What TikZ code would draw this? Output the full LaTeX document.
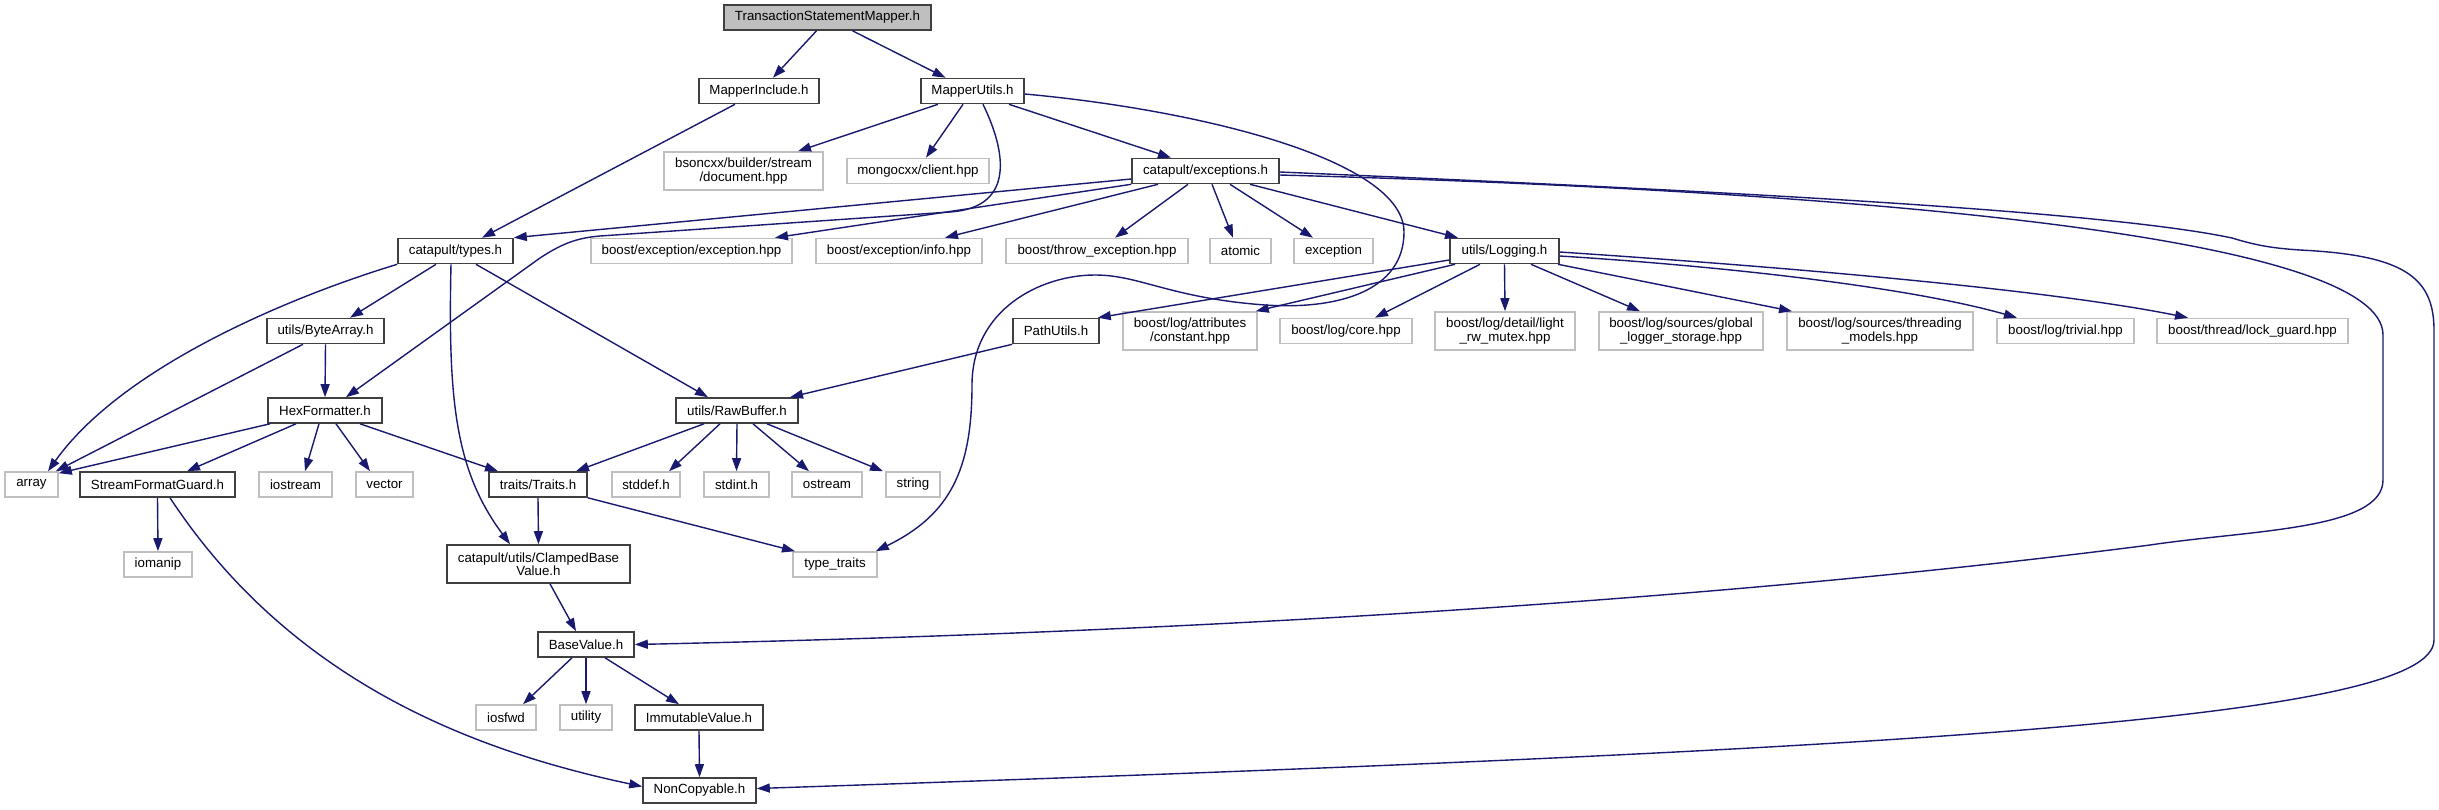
\documentclass[tikz,border=0pt]{standalone}
\usepackage{fontspec}
\setmainfont{Liberation Sans}
\usetikzlibrary{arrows.meta,calc}
\definecolor{edgec}{HTML}{191970}
\definecolor{grayb}{HTML}{BFBFBF}
\definecolor{darkb}{HTML}{404040}
\begin{document}
\begin{tikzpicture}[x=1pt,y=-1pt,
  nbox/.style={rectangle, inner sep=0pt, font=\fontsize{13.3}{13.4}\selectfont, align=center, line width=1.6pt, fill=white, minimum height=25pt},
  fb/.style={nbox, draw=darkb},
  gb/.style={nbox, draw=grayb},
  two/.style={minimum height=38pt},
  con/.style={draw=edgec, line width=1.4pt, -{Triangle[length=13pt,width=9pt]}}]
\useasboundingbox (0,0) rectangle (2439,809);
% nodes
\node[fb, fill=grayb, minimum width=207pt] (tsm) at (827.5,17.5) {TransactionStatementMapper.h};
\node[fb, minimum width=120pt] (minc) at (759,91) {MapperInclude.h};
\node[fb, minimum width=103pt] (mutl) at (972.5,91) {MapperUtils.h};
\node[gb, two, minimum width=159pt] (bson) at (743.5,171) {bsoncxx/builder/stream\\/document.hpp};
\node[gb, minimum width=142pt] (mongo) at (918,171) {mongocxx/client.hpp};
\node[fb, minimum width=147pt] (exc) at (1205.5,171) {catapult/exceptions.h};
\node[fb, minimum width=115pt] (types) at (455.5,251) {catapult/types.h};
\node[gb, minimum width=201pt] (bexc) at (691.5,251) {boost/exception/exception.hpp};
\node[gb, minimum width=166pt] (binfo) at (899,251) {boost/exception/info.hpp};
\node[gb, minimum width=182pt] (bthrow) at (1097,251) {boost/throw\_exception.hpp};
\node[gb, minimum width=61pt] (atomic) at (1240.5,251) {atomic};
\node[gb, minimum width=79pt] (exception) at (1333.5,251) {exception};
\node[fb, minimum width=109pt] (logging) at (1504.5,251) {utils/Logging.h};
\node[fb, minimum width=117pt] (bytearr) at (325.5,331) {utils/ByteArray.h};
\node[fb, minimum width=86pt] (pathu) at (1056,331) {PathUtils.h};
\node[gb, two, minimum width=134pt] (const) at (1190,331) {boost/log/attributes\\/constant.hpp};
\node[gb, minimum width=132pt] (core) at (1346,331) {boost/log/core.hpp};
\node[gb, two, minimum width=140pt] (lrw) at (1505,331) {boost/log/detail/light\\\_rw\_mutex.hpp};
\node[gb, two, minimum width=164pt] (gls) at (1681,331) {boost/log/sources/global\\\_logger\_storage.hpp};
\node[gb, two, minimum width=186pt] (thm) at (1880,331) {boost/log/sources/threading\\\_models.hpp};
\node[gb, minimum width=137pt] (triv) at (2065.5,331) {boost/log/trivial.hpp};
\node[gb, minimum width=191pt] (lockg) at (2252.5,331) {boost/thread/lock\_guard.hpp};
\node[fb, minimum width=114pt] (hexf) at (325,410.5) {HexFormatter.h};
\node[fb, minimum width=122pt] (rawb) at (737,410.5) {utils/RawBuffer.h};
\node[gb, minimum width=53pt] (array) at (31.5,484.5) {array};
\node[fb, minimum width=155pt] (sfg) at (157.5,484.5) {StreamFormatGuard.h};
\node[gb, minimum width=73pt] (iostream) at (295.5,484.5) {iostream};
\node[gb, minimum width=57pt] (vector) at (384.5,484.5) {vector};
\node[fb, minimum width=98pt] (traits) at (538,484.5) {traits/Traits.h};
\node[gb, minimum width=68pt] (stddef) at (646,484.5) {stddef.h};
\node[gb, minimum width=65pt] (stdint) at (736.5,484.5) {stdint.h};
\node[gb, minimum width=70pt] (ostream) at (827,484.5) {ostream};
\node[gb, minimum width=54pt] (string) at (913,484.5) {string};
\node[gb, minimum width=68pt] (iomanip) at (158,564.5) {iomanip};
\node[fb, two, minimum width=183pt] (clamp) at (538.5,564) {catapult/utils/ClampedBase\\Value.h};
\node[gb, minimum width=84pt] (typetr) at (835,564.5) {type\_traits};
\node[fb, minimum width=96pt] (basev) at (586,644.5) {BaseValue.h};
\node[gb, minimum width=60pt] (iosfwd) at (506,717.5) {iosfwd};
\node[gb, minimum width=52pt] (utility) at (586,717.5) {utility};
\node[fb, minimum width=128pt] (immut) at (699,717.5) {ImmutableValue.h};
\node[fb, minimum width=113pt] (noncopy) at (699.5,790.5) {NonCopyable.h};
% edges
\draw[con] ($(tsm.south)+(-11,0)$) -- ($(minc.north)+(14,0)$);
\draw[con] ($(tsm.south)+(25,0)$) -- ($(mutl.north)+(-27,0)$);
\draw[con] ($(minc.south)+(-24,0)$) -- ($(types.north)+(26.5,0)$);
\draw[con] ($(mutl.south)+(-34.5,0)$) -- ($(bson.north)+(54.5,0)$);
\draw[con] ($(mutl.south)+(-9.5,0)$) -- ($(mongo.north)+(8,0)$);
\draw[con] ($(mutl.south)+(36.5,0)$) -- ($(exc.north)+(-34.5,0)$);
\draw[con] ($(mutl.south)+(10.5,0)$) .. controls (1010,160) and (1010,208) .. (950,212)
  -- (600,236) .. controls (575,238) and (560,245) .. (540,258) -- ($(hexf.north)+(21,0)$);
\draw[con] ($(mutl.east)+(0,3)$) .. controls (1200,110) and (1404,160) .. (1404,232)
  .. controls (1404,290) and (1340,310) .. (1265,305)
  .. controls (1170,298) and (1140,275) .. (1095,275)
  .. controls (1040,275) and (972,310) .. (972,385)
  .. controls (972,470) and (950,515) .. ($(typetr.north east)+(-2,0)$);
\draw[con] ($(exc.west)+(0,8)$) -- (types.north east);
\draw[con] (exc.south west) -- ($(bexc.north)+(83.5,0)$);
\draw[con] ($(exc.south)+(-47.5,0)$) -- ($(binfo.north)+(46,0)$);
\draw[con] ($(exc.south)+(-17.5,0)$) -- ($(bthrow.north)+(18,0)$);
\draw[con] ($(exc.south)+(6.5,0)$) -- ($(atomic.north)+(-7.5,0)$);
\draw[con] ($(exc.south)+(24.5,0)$) -- ($(exception.north)+(-20.5,0)$);
\draw[con] ($(exc.south)+(44.5,0)$) -- ($(logging.north)+(-46.5,0)$);
\draw[con] ($(exc.east)+(0,4)$) .. controls (1900,192) and (2383,240) .. (2383,335)
  -- (2383,480) .. controls (2383,530) and (2250,530) .. (2150,545)
  .. controls (1800,590) and (1300,630) .. (basev.east);
\draw[con] ($(exc.east)+(0,1)$) .. controls (1700,190) and (2100,210) .. (2232,238)
  .. controls (2255,245) and (2270,248) .. (2300,250)
  .. controls (2400,255) and (2434,275) .. (2434,330)
  -- (2434,640) .. controls (2434,720) and (1900,750) .. ($(noncopy.east)+(0,-2)$);
\draw[con] (types.south west) .. controls (280,300) and (120,370) .. ($(array.north)+(16.5,0)$);
\draw[con] ($(types.south)+(-19.5,0)$) -- ($(bytearr.north)+(24.5,0)$);
\draw[con] ($(types.south)+(-4.5,0)$) .. controls (448,400) and (455,470) .. ($(clamp.north)+(-28.5,0)$);
\draw[con] ($(types.south)+(20.5,0)$) -- ($(rawb.north)+(-29,0)$);
\draw[con] ($(bytearr.south)+(-22.5,0)$) -- ($(array.north east)+(-3,0)$);
\draw[con] (bytearr.south) -- (hexf.north);
\draw[con] ($(hexf.south)+(-55,0)$) -- ($(array.north east)+(0,2)$);
\draw[con] ($(hexf.south)+(-29,0)$) -- ($(sfg.north)+(29.5,0)$);
\draw[con] ($(hexf.south)+(-6,0)$) -- ($(iostream.north)+(9.5,0)$);
\draw[con] ($(hexf.south)+(11,0)$) -- ($(vector.north)+(-14.5,0)$);
\draw[con] ($(hexf.south)+(35,0)$) -- ($(traits.north)+(-40,0)$);
\draw[con] ($(rawb.south)+(-33,0)$) -- ($(traits.north)+(38,0)$);
\draw[con] ($(rawb.south)+(-17,0)$) -- ($(stddef.north)+(23,0)$);
\draw[con] (rawb.south) -- (stdint.north);
\draw[con] ($(rawb.south)+(16,0)$) -- ($(ostream.north)+(-18,0)$);
\draw[con] ($(rawb.south)+(30,0)$) -- ($(string.north)+(-30,0)$);
\draw[con] (pathu.south west) -- ($(rawb.north)+(53,0)$);
\draw[con] ($(logging.west)+(0,9)$) -- ($(pathu.north east)+(-2,0)$);
\draw[con] ($(logging.south)+(-49.5,0)$) -- ($(const.north east)+(-2,0)$);
\draw[con] ($(logging.south)+(-24.5,0)$) -- ($(core.north)+(29,0)$);
\draw[con] (logging.south) -- (lrw.north);
\draw[con] ($(logging.south)+(26.5,0)$) -- ($(gls.north)+(-41,0)$);
\draw[con] ($(logging.south)+(53.5,0)$) -- ($(thm.north)+(-88,0)$);
\draw[con] ($(logging.east)+(0,5)$) .. controls (1750,268) and (1920,290) .. ($(triv.north)+(-48.5,0)$);
\draw[con] ($(logging.east)+(0,1)$) .. controls (1800,268) and (2050,290) .. ($(lockg.north)+(-64.5,0)$);
\draw[con] (sfg.south) -- (iomanip.north);
\draw[con] ($(sfg.south)+(12.5,0)$) .. controls (290,680) and (470,750) .. ($(noncopy.west)+(0,-4)$);
\draw[con] (traits.south) -- (clamp.north);
\draw[con] (traits.south east) -- ($(typetr.north)+(-40,0)$);
\draw[con] ($(clamp.south)+(11.5,0)$) -- ($(basev.north)+(-10,0)$);
\draw[con] ($(basev.south)+(-14,0)$) -- ($(iosfwd.north)+(17,0)$);
\draw[con] (basev.south) -- (utility.north);
\draw[con] ($(basev.south)+(19,0)$) -- ($(immut.north)+(-20,0)$);
\draw[con] (immut.south) -- (noncopy.north);
\end{tikzpicture}
\end{document}
